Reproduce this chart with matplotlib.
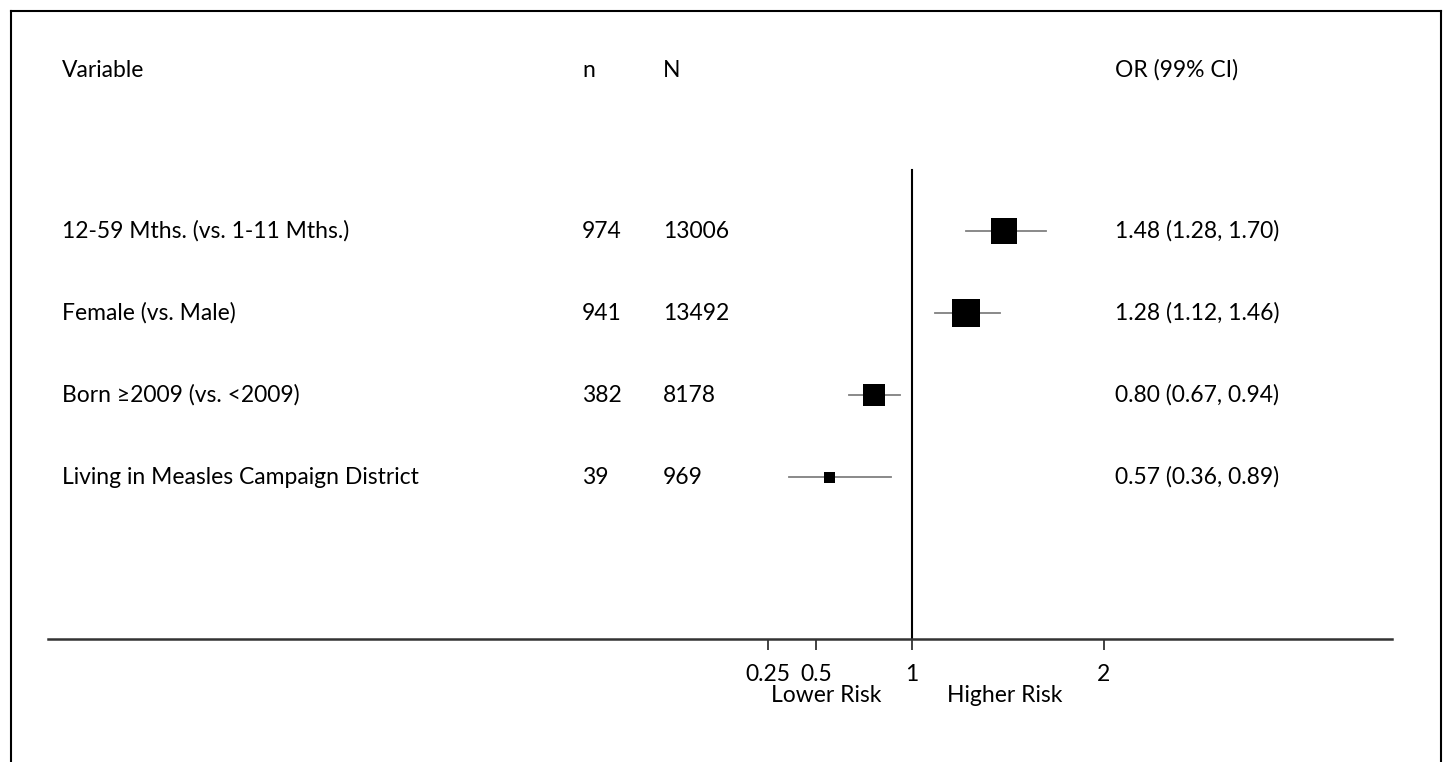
import matplotlib
matplotlib.use("Agg")
import matplotlib.pyplot as plt
from matplotlib.lines import Line2D

plt.rcParams['font.family'] = ['Lato', 'DejaVu Sans']

variables = ["12-59 Mths. (vs. 1-11 Mths.)", "Female (vs. Male)",
             "Born \u22652009 (vs. <2009)", "Living in Measles Campaign District"]
n_vals = [974, 941, 382, 39]
N_vals = [13006, 13492, 8178, 969]
odds = [1.48, 1.28, 0.80, 0.57]
lower = [1.28, 1.12, 0.67, 0.36]
upper = [1.70, 1.46, 0.94, 0.89]
box_px = [27, 28, 23, 11]   # marker size (pixels) as drawn
tick_vals = [0.25, 0.5, 1, 2]
tick_labels = ["0.25", "0.5", "1", "2"]

W, H = 1443, 762
fig = plt.figure(figsize=(W / 100, H / 100), dpi=100)
ax = fig.add_axes([0, 0, 1, 1])
ax.set_xlim(-3.75, (W - 720) / 192)
ax.set_ylim((H - 231) / 82, -231 / 82)

fs = 16.5
rows = range(len(variables))

# headers
hy = -1.96
ax.text(-3.427, hy, "Variable", fontsize=fs, va='center')
ax.text(-0.719, hy, "n", fontsize=fs, va='center')
ax.text(-0.297, hy, "N", fontsize=fs, va='center')
ax.text(2.057, hy, "OR (99% CI)", fontsize=fs, va='center')

for i in rows:
    ax.text(-3.427, i, variables[i], fontsize=fs, va='center')
    ax.text(-0.719, i, str(n_vals[i]), fontsize=fs, va='center')
    ax.text(-0.297, i, str(N_vals[i]), fontsize=fs, va='center')
    ax.text(2.057, i, "%.2f (%.2f, %.2f)" % (odds[i], lower[i], upper[i]),
            fontsize=fs, va='center')
    ax.plot([lower[i], upper[i]], [i, i], color='#808080', lw=1.3, zorder=2)
    ax.plot(odds[i], i, marker='s', color='black', ms=box_px[i] * 0.72,
            markeredgewidth=0, zorder=3)

# reference line at OR = 1
ax.plot([1, 1], [-0.744, 4.975], color='black', lw=1.5, zorder=1)

# x axis
for s in ['top', 'right', 'left']:
    ax.spines[s].set_visible(False)
ax.spines['bottom'].set_position(('data', 4.975))
ax.spines['bottom'].set_bounds(-3.5, 3.5)
ax.spines['bottom'].set_linewidth(1.8)
ax.spines['bottom'].set_color('#333333')
ax.set_yticks([])
ax.set_xticks(tick_vals)
ax.set_xticklabels(tick_labels)
ax.tick_params(axis='x', direction='out', length=8, width=1.3, color='#333333',
               labelsize=fs, pad=10)

ax.text(0.552, 5.66, "Lower Risk", fontsize=fs, ha='center', va='center')
ax.text(1.484, 5.66, "Higher Risk", fontsize=fs, ha='center', va='center')

# outer frame (top, left, right)
x0, x1, yt = 11 / W, 1441 / W, 1 - 11 / H
for xs, ys in [([x0, x1], [yt, yt]), ([x0, x0], [yt, 0]), ([x1, x1], [yt, 0])]:
    fig.add_artist(Line2D(xs, ys, color='black', lw=1.5, transform=fig.transFigure))

fig.savefig("out.png", dpi=100)
